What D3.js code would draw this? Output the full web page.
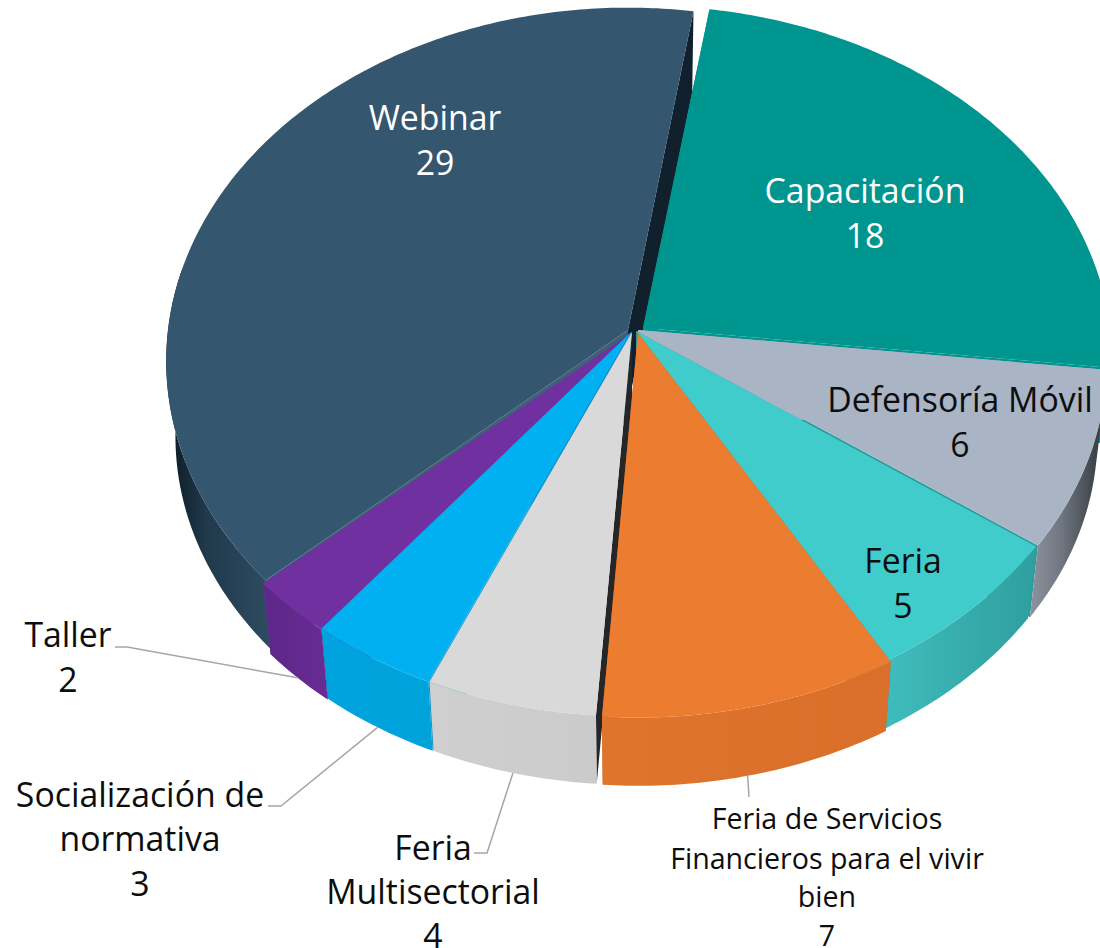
<!DOCTYPE html>
<html><head><meta charset="utf-8">
<script src="https://cdn.jsdelivr.net/npm/d3@7"></script>
<style>html,body{margin:0;padding:0;background:#fff;overflow:hidden}svg{display:block}text{font-family:"Open Sans",sans-serif}</style>
</head><body><svg id="c" width="1100" height="948" viewBox="0 0 1100 948"></svg>
<script>
// Data, clockwise from the top of the pie
const categories = ["Capacitación","Defensoría Móvil","Feria","Feria de Servicios Financieros para el vivir bien","Feria Multisectorial","Socialización de normativa","Taller","Webinar"];
const values = [18,6,5,7,4,3,2,29];

// Styling
const topColors  = ["#00968f","#a9b4c5","#41cccc","#ec7c30","#d9d9d9","#00b0f0","#7030a0","#34566f"];
const wallStart  = ["#00968f","#a9b4c5","#2c9c9c","#2c9c9c","#262626","#1290c0","#5e2789","#3f6076"];
const wallEnd    = ["#00968f","#2c9c9c","#2c9c9c","#b9601f","#1290c0","#5e2789","#3f6076","#10202c"];
const sideStops  = [
  [["#00968f",0],["#00968f",1]],
  [["#8b929d",0],["#6f7680",.45],["#3b4046",1]],
  [["#40bcbc",0],["#2f9f9f",1]],
  [["#df742d",0],["#d96f2a",1]],
  [["#cfcfcf",0],["#cbcbcb",1]],
  [["#00a3de",0],["#00a2da",1]],
  [["#5e2789",0],["#692c95",1]],
  [["#0c1b26",0],["#213a4c",.35],["#2f4d63",1]]
];
const sideSpan = [[900,1100],[1032,1098],[885,1032],[603,885],[436,598],[330,436],[272,330],[170,275]];
const offsets  = [[8,-2],[3,0],[1,1],[3,3],[-3,2],[-4,2],[-4,3],[-7,0]];
const radiusX  = [467,467,467,467,467,467,467,460];
const drawOrder = [7,0,1,2,6,5,4,3];
const sideFrom = 100, sideTo = 280; // degrees of the rim that face the viewer

// Perspective model of the pie plane
const cx=635, cy=330, radiusY=350.7, persp=.0879, depth=76, shrink=.98, rad=Math.PI/180;
function project(theta,r,low,i){
  const u=Math.sin(theta)*r, v=Math.cos(theta)*r, w=1+persp*v;
  const s=low?shrink:1, [ox,oy]=offsets[i];
  return [cx+ox+s*radiusX[i]*u/w, cy+oy+(low?depth:0)-s*radiusY*v/w];
}
const arcs = d3.pie().sort(null).startAngle(8.9*rad).endAngle((8.9+360)*rad)(values);
const line = d3.line();
const samples = (a,b)=>{const n=Math.max(2,Math.ceil((b-a)/(0.7*rad)));return d3.range(n+1).map(k=>a+(b-a)*k/n);};

const svg=d3.select("#c");
const defs=svg.append("defs");
sideStops.forEach((st,i)=>{
  const g=defs.append("linearGradient").attr("id","side"+i).attr("gradientUnits","userSpaceOnUse")
    .attr("x1",sideSpan[i][0]).attr("x2",sideSpan[i][1]).attr("y1",0).attr("y2",0);
  st.forEach(([c,o])=>g.append("stop").attr("offset",o).attr("stop-color",c));
});
const pie=svg.append("g");
drawOrder.forEach(i=>{
  const d=arcs[i], ts=samples(d.startAngle,d.endAngle), g=pie.append("g");
  [[d.endAngle,wallEnd[i]],[d.startAngle,wallStart[i]]].forEach(([t,c])=>{
    g.append("path").attr("fill",c).attr("d",line([
      project(t,0,false,i),project(t,1,false,i),project(t,1,true,i),project(t,0,true,i)])+"Z");
  });
  const a=Math.max(d.startAngle,sideFrom*rad), b=Math.min(d.endAngle,sideTo*rad);
  if(b>a){
    const vs=samples(a,b), hi=vs.map(t=>project(t,1,false,i)), lo=vs.map(t=>project(t,1,true,i));
    g.append("path").attr("fill","url(#side"+i+")").attr("d",line(hi.concat(lo.reverse()))+"Z");
  }
  g.append("path").attr("fill",topColors[i]).attr("d",line([project(0,0,false,i)].concat(ts.map(t=>project(t,1,false,i))))+"Z");
});

// Leader lines run from the lower rim of a slice to a knee by its label
const leaders=[[3,.51,[749,797],null],[4,.5,[487,853],[474,853]],[5,.5,[281,806],[268,806]],[6,.5,[127,647],[115,647]]];
leaders.forEach(([i,f,knee,end])=>{
  const pts=[project(arcs[i].startAngle+(arcs[i].endAngle-arcs[i].startAngle)*f,1,true,i),knee];
  if(end)pts.push(end);
  svg.append("path").attr("d",line(pts)).attr("fill","none").attr("stroke","#a6a6a6").attr("stroke-width",1.5);
});

// Labels
const labelLines=[
 [["Capacitación","18"],865,[203,248],33.8,"#fff"],
 [["Defensoría Móvil","6"],960,[412,457],33.8,"#0d0d0d"],
 [["Feria","5"],903,[573,618],33.8,"#0d0d0d"],
 [["Feria de Servicios","Financieros para el vivir","bien","7"],827,[829,869,907,946],28.6,"#0d0d0d"],
 [["Feria","Multisectorial","4"],433,[860,904,948],33.8,"#0d0d0d"],
 [["Socialización de","normativa","3"],140,[807,851,896],33.8,"#0d0d0d"],
 [["Taller","2"],68,[647,692],33.8,"#0d0d0d"],
 [["Webinar","29"],435,[130,175],33.8,"#fff"]
];
labelLines.forEach(([ls,x,ys,fs,col])=>{
  ls.forEach((t,k)=>svg.append("text").attr("x",x).attr("y",ys[k]).attr("text-anchor","middle")
    .attr("font-size",fs).style("fill",col).text(t));
});
</script></body></html>
